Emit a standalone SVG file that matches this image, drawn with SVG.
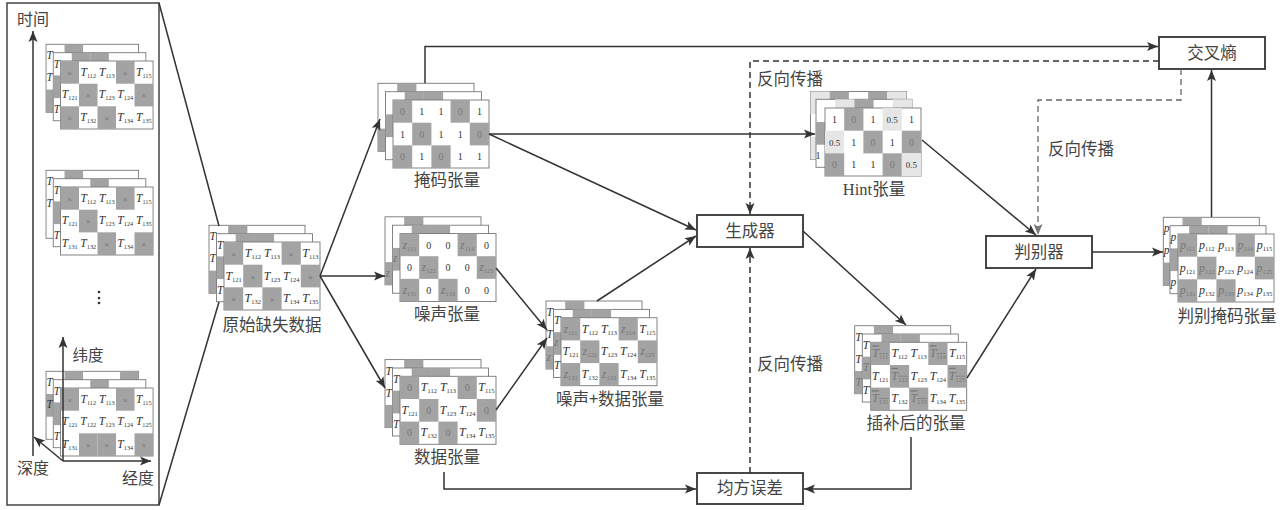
<svg xmlns="http://www.w3.org/2000/svg" width="1281" height="510" viewBox="0 0 1281 510">
<style>
text{font-family:"Liberation Serif","Noto Sans CJK SC",serif;fill:#333}
.l{font-family:"Noto Sans CJK SC","Noto Sans CJK JP",sans-serif;font-size:16.5px;text-anchor:middle;fill:#444}
.b{fill:#fff;stroke:#333;stroke-width:1.8}
.r{fill:#fff;stroke:#777;stroke-width:.9}
.t{font-size:12px;font-style:italic;text-anchor:middle}
.t tspan{font-size:6.5px;font-style:normal}
.n{font-size:10px;text-anchor:middle}
.d{fill:#777}
.o{text-decoration:overline}
.x{font-size:8px;text-anchor:middle;fill:#777;font-family:"Liberation Sans",sans-serif}
.e{font-size:11.5px;font-style:italic}
.c{fill:none;stroke:#333;stroke-width:1.5;marker-end:url(#a)}
.k{fill:none;stroke:#333;stroke-width:1.5;stroke-dasharray:6 4;marker-end:url(#a)}
.g{fill:none;stroke:#666;stroke-width:1.3;stroke-dasharray:6 4;marker-end:url(#h)}
.z{fill:none;stroke:#333;stroke-width:1.5}
</style>
<defs>
<marker id="a" markerUnits="userSpaceOnUse" markerWidth="12" markerHeight="10" refX="11" refY="5" orient="auto"><path d="M0 .5L11 5L0 9.5L2.5 5z" fill="#333"/></marker>
<marker id="h" markerUnits="userSpaceOnUse" markerWidth="12" markerHeight="10" refX="11" refY="5" orient="auto"><path d="M0 .5L11 5L0 9.5L2.5 5z" fill="#777"/></marker>
<rect id="c" width="19.2" height="22.7" fill="#a3a3a3"/>
<rect id="w" width="19.2" height="22.7" fill="#e6e6e6"/>
<rect id="f" width="96" height="68" class="r"/>
<g id="bA"><use href="#f"/><use href="#c" x="19.2" y="0"/><use href="#c" x="0" y="45.3"/></g>
<g id="mA"><use href="#f"/><use href="#c" x="19.2" y="0"/><use href="#c" x="38.4" y="0"/><use href="#c" x="0" y="22.7"/></g>
<g id="gA"><use href="#c" x="0" y="0"/><use href="#c" x="57.6" y="0"/><use href="#c" x="19.2" y="22.7"/><use href="#c" x="76.8" y="22.7"/><use href="#c" x="0" y="45.3"/><use href="#c" x="38.4" y="45.3"/></g>
</defs>

<g id="panel">
<rect x="7" y="3" width="152" height="502" fill="#fff" stroke="#444" stroke-width="1.5"/>
<g id="slice-top" transform="translate(60.5,61) scale(.964,1)">
<g transform="translate(-15,-16.7)"><use href="#bA"/><text class="e" x=".5" y="15">T</text><text class="e" x=".5" y="37">T</text></g>
<g transform="translate(-7.5,-8.3)"><use href="#mA"/><text class="e" x=".5" y="15">T</text><text class="e" x=".5" y="60">T</text></g>
<use href="#f"/><use href="#gA"/>
<text class="x" x="9.6" y="15">×</text><text class="t" x="28.8" y="15">T<tspan dy="2">112</tspan></text><text class="t" x="48" y="15">T<tspan dy="2">113</tspan></text><text class="x" x="67.2" y="15">×</text><text class="t" x="86.4" y="15">T<tspan dy="2">115</tspan></text>
<text class="t" x="9.6" y="37.5">T<tspan dy="2">121</tspan></text><text class="x" x="28.8" y="37.5">×</text><text class="t" x="48" y="37.5">T<tspan dy="2">123</tspan></text><text class="t" x="67.2" y="37.5">T<tspan dy="2">124</tspan></text><text class="x" x="86.4" y="37.5">×</text>
<text class="x" x="9.6" y="60">×</text><text class="t" x="28.8" y="60">T<tspan dy="2">132</tspan></text><text class="x" x="48" y="60">×</text><text class="t" x="67.2" y="60">T<tspan dy="2">134</tspan></text><text class="t" x="86.4" y="60">T<tspan dy="2">135</tspan></text>
</g>
<g id="slice-mid" transform="translate(60.5,187) scale(.964,1)">
<g transform="translate(-15,-16.7)"><use href="#f"/><use href="#c" x="19.2" y="0"/><text class="e" x=".5" y="15">T</text><text class="e" x=".5" y="37">T</text></g>
<g transform="translate(-7.5,-8.3)"><use href="#f"/><use href="#c" x="38.4" y="0"/><use href="#c" x="0" y="22.7"/><text class="e" x=".5" y="15">T</text><text class="e" x=".5" y="60">T</text></g>
<use href="#f"/><use href="#c" x="0" y="0"/><use href="#c" x="57.6" y="0"/><use href="#c" x="19.2" y="22.7"/><use href="#c" x="38.4" y="45.3"/><use href="#c" x="76.8" y="45.3"/>
<text class="x" x="9.6" y="15">×</text><text class="t" x="28.8" y="15">T<tspan dy="2">112</tspan></text><text class="t" x="48" y="15">T<tspan dy="2">113</tspan></text><text class="x" x="67.2" y="15">×</text><text class="t" x="86.4" y="15">T<tspan dy="2">115</tspan></text>
<text class="t" x="9.6" y="37.5">T<tspan dy="2">121</tspan></text><text class="x" x="28.8" y="37.5">×</text><text class="t" x="48" y="37.5">T<tspan dy="2">123</tspan></text><text class="t" x="67.2" y="37.5">T<tspan dy="2">124</tspan></text><text class="t" x="86.4" y="37.5">T<tspan dy="2">135</tspan></text>
<text class="t" x="9.6" y="60">T<tspan dy="2">131</tspan></text><text class="t" x="28.8" y="60">T<tspan dy="2">132</tspan></text><text class="x" x="48" y="60">×</text><text class="t" x="67.2" y="60">T<tspan dy="2">134</tspan></text><text class="x" x="86.4" y="60">×</text>
</g>
<g id="slice-bottom" transform="translate(60.5,388) scale(.964,1)">
<g transform="translate(-15,-16.7)"><use href="#f"/><use href="#c" x="19.2" y="0"/><use href="#c" x="76.8" y="0"/><use href="#c" x="0" y="22.7"/><text class="e" x=".5" y="15">T</text><text class="e" x=".5" y="37">T</text></g>
<g transform="translate(-7.5,-8.3)"><use href="#f"/><use href="#c" x="38.4" y="0"/><use href="#c" x="0" y="22.7"/><text class="e" x=".5" y="15">T</text><text class="e" x=".5" y="60">T</text></g>
<use href="#f"/><use href="#c" x="0" y="0"/><use href="#c" x="57.6" y="0"/><use href="#c" x="19.2" y="45.3"/><use href="#c" x="38.4" y="45.3"/><use href="#c" x="76.8" y="45.3"/>
<text class="x" x="9.6" y="15">×</text><text class="t" x="28.8" y="15">T<tspan dy="2">112</tspan></text><text class="t" x="48" y="15">T<tspan dy="2">113</tspan></text><text class="x" x="67.2" y="15">×</text><text class="t" x="86.4" y="15">T<tspan dy="2">115</tspan></text>
<text class="t" x="9.6" y="37.5">T<tspan dy="2">121</tspan></text><text class="t" x="28.8" y="37.5">T<tspan dy="2">122</tspan></text><text class="t" x="48" y="37.5">T<tspan dy="2">123</tspan></text><text class="t" x="67.2" y="37.5">T<tspan dy="2">124</tspan></text><text class="t" x="86.4" y="37.5">T<tspan dy="2">125</tspan></text>
<text class="t" x="9.6" y="60">T<tspan dy="2">131</tspan></text><text class="x" x="28.8" y="60">×</text><text class="x" x="48" y="60">×</text><text class="t" x="67.2" y="60">T<tspan dy="2">134</tspan></text><text class="x" x="86.4" y="60">×</text>
</g>
<circle cx="99" cy="292" r="1.3" fill="#333"/><circle cx="99" cy="298" r="1.3" fill="#333"/><circle cx="99" cy="303" r="1.3" fill="#333"/>
<path class="c" d="M33 456V31"/><path class="c" d="M63 461L34 437"/><path class="c" d="M63 461V337"/><path class="c" d="M63 461H151"/>
<text class="l" x="33" y="25" style="font-size:16px">时间</text>
<text class="l" x="88" y="361" style="font-size:15.5px">纬度</text>
<text class="l" x="33" y="474" style="font-size:16px">深度</text>
<text class="l" x="138" y="484" style="font-size:16px">经度</text>
</g>

<g id="orig">
<g transform="translate(224,242)">
<g transform="translate(-15,-16.7)"><use href="#bA"/><text class="e" x=".5" y="15">T</text><text class="e" x=".5" y="37">T</text></g>
<g transform="translate(-7.5,-8.3)"><use href="#mA"/><text class="e" x=".5" y="15">T</text><text class="e" x=".5" y="60">T</text></g>
<use href="#f"/><use href="#gA"/>
<text class="x" x="9.6" y="15">×</text><text class="t" x="28.8" y="15">T<tspan dy="2">112</tspan></text><text class="t" x="48" y="15">T<tspan dy="2">113</tspan></text><text class="x" x="67.2" y="15">×</text><text class="t" x="86.4" y="15">T<tspan dy="2">113</tspan></text>
<text class="t" x="9.6" y="37.5">T<tspan dy="2">121</tspan></text><text class="x" x="28.8" y="37.5">×</text><text class="t" x="48" y="37.5">T<tspan dy="2">123</tspan></text><text class="t" x="67.2" y="37.5">T<tspan dy="2">124</tspan></text><text class="x" x="86.4" y="37.5">×</text>
<text class="x" x="9.6" y="60">×</text><text class="t" x="28.8" y="60">T<tspan dy="2">132</tspan></text><text class="x" x="48" y="60">×</text><text class="t" x="67.2" y="60">T<tspan dy="2">134</tspan></text><text class="t" x="86.4" y="60">T<tspan dy="2">135</tspan></text>
</g>
<text class="l" x="272" y="331">原始缺失数据</text>
</g>

<g id="mask">
<g transform="translate(393,100)">
<g transform="translate(-15,-16.7)"><use href="#bA"/></g>
<g transform="translate(-7.5,-8.3)"><use href="#mA"/></g>
<use href="#f"/><use href="#gA"/>
<text class="n d" x="9.6" y="15">0</text><text class="n" x="28.8" y="15">1</text><text class="n" x="48" y="15">1</text><text class="n d" x="67.2" y="15">0</text><text class="n" x="86.4" y="15">1</text>
<text class="n" x="9.6" y="37.5">1</text><text class="n d" x="28.8" y="37.5">0</text><text class="n" x="48" y="37.5">1</text><text class="n" x="67.2" y="37.5">1</text><text class="n d" x="86.4" y="37.5">0</text>
<text class="n d" x="9.6" y="60">0</text><text class="n" x="28.8" y="60">1</text><text class="n d" x="48" y="60">0</text><text class="n" x="67.2" y="60">1</text><text class="n" x="86.4" y="60">1</text>
</g>
<text class="l" x="447" y="186">掩码张量</text>
</g>

<g id="noise">
<g transform="translate(400,233.5)">
<g transform="translate(-15,-16.7)"><use href="#bA"/><text class="e d" x=".5" y="60">z</text></g>
<g transform="translate(-7.5,-8.3)"><use href="#mA"/><text class="e d" x=".5" y="37">z</text></g>
<use href="#f"/><use href="#gA"/>
<text class="t d" x="9.6" y="15">z<tspan dy="2">111</tspan></text><text class="n" x="28.8" y="15">0</text><text class="n" x="48" y="15">0</text><text class="t d" x="67.2" y="15">z<tspan dy="2">114</tspan></text><text class="n" x="86.4" y="15">0</text>
<text class="n" x="9.6" y="37.5">0</text><text class="t d" x="28.8" y="37.5">z<tspan dy="2">122</tspan></text><text class="n" x="48" y="37.5">0</text><text class="n" x="67.2" y="37.5">0</text><text class="t d" x="86.4" y="37.5">z<tspan dy="2">125</tspan></text>
<text class="t d" x="9.6" y="60">z<tspan dy="2">131</tspan></text><text class="n" x="28.8" y="60">0</text><text class="t d" x="48" y="60">z<tspan dy="2">133</tspan></text><text class="n" x="67.2" y="60">0</text><text class="n" x="86.4" y="60">0</text>
</g>
<text class="l" x="447" y="320">噪声张量</text>
</g>

<g id="data">
<g transform="translate(400,376.3)">
<g transform="translate(-15,-16.7)"><use href="#bA"/><text class="e" x=".5" y="15">T</text><text class="e" x=".5" y="37">T</text></g>
<g transform="translate(-7.5,-8.3)"><use href="#mA"/><text class="e" x=".5" y="15">T</text><text class="e" x=".5" y="60">T</text></g>
<use href="#f"/><use href="#gA"/>
<text class="n d" x="9.6" y="15">0</text><text class="t" x="28.8" y="15">T<tspan dy="2">112</tspan></text><text class="t" x="48" y="15">T<tspan dy="2">113</tspan></text><text class="n d" x="67.2" y="15">0</text><text class="t" x="86.4" y="15">T<tspan dy="2">115</tspan></text>
<text class="t" x="9.6" y="37.5">T<tspan dy="2">121</tspan></text><text class="n d" x="28.8" y="37.5">0</text><text class="t" x="48" y="37.5">T<tspan dy="2">123</tspan></text><text class="t" x="67.2" y="37.5">T<tspan dy="2">124</tspan></text><text class="n d" x="86.4" y="37.5">0</text>
<text class="n d" x="9.6" y="60">0</text><text class="t" x="28.8" y="60">T<tspan dy="2">132</tspan></text><text class="n d" x="48" y="60">0</text><text class="t" x="67.2" y="60">T<tspan dy="2">134</tspan></text><text class="t" x="86.4" y="60">T<tspan dy="2">135</tspan></text>
</g>
<text class="l" x="447" y="463">数据张量</text>
</g>

<g id="noisy">
<g transform="translate(561,317.7)">
<g transform="translate(-15,-16.7)"><use href="#bA"/><text class="e" x=".5" y="15">T</text><text class="e" x=".5" y="37">T</text><text class="e d" x=".5" y="60">z</text></g>
<g transform="translate(-7.5,-8.3)"><use href="#mA"/><text class="e" x=".5" y="15">T</text><text class="e d" x=".5" y="37">z</text><text class="e" x=".5" y="60">T</text></g>
<use href="#f"/><use href="#gA"/>
<text class="t d" x="9.6" y="15">z<tspan dy="2">111</tspan></text><text class="t" x="28.8" y="15">T<tspan dy="2">112</tspan></text><text class="t" x="48" y="15">T<tspan dy="2">113</tspan></text><text class="t d" x="67.2" y="15">z<tspan dy="2">114</tspan></text><text class="t" x="86.4" y="15">T<tspan dy="2">115</tspan></text>
<text class="t" x="9.6" y="37.5">T<tspan dy="2">121</tspan></text><text class="t d" x="28.8" y="37.5">z<tspan dy="2">122</tspan></text><text class="t" x="48" y="37.5">T<tspan dy="2">123</tspan></text><text class="t" x="67.2" y="37.5">T<tspan dy="2">124</tspan></text><text class="t d" x="86.4" y="37.5">z<tspan dy="2">125</tspan></text>
<text class="t d" x="9.6" y="60">z<tspan dy="2">131</tspan></text><text class="t" x="28.8" y="60">T<tspan dy="2">132</tspan></text><text class="t d" x="48" y="60">z<tspan dy="2">133</tspan></text><text class="t" x="67.2" y="60">T<tspan dy="2">134</tspan></text><text class="t" x="86.4" y="60">T<tspan dy="2">135</tspan></text>
</g>
<text class="l" x="610" y="405">噪声+数据张量</text>
</g>

<g id="hint">
<g transform="translate(825,108)">
<g transform="translate(-14.5,-16.5)"><use href="#f"/><use href="#w" x="0" y="0"/><use href="#c" x="19.2" y="0"/><use href="#c" x="57.6" y="0"/><use href="#w" x="76.8" y="0"/><use href="#w" x="0" y="45.3"/></g>
<g transform="translate(-9,-8.7)"><use href="#f"/><use href="#w" x="19.2" y="0"/><use href="#c" x="38.4" y="0"/><use href="#w" x="76.8" y="0"/><use href="#c" x="0" y="22.7"/><text class="n" x="2" y="60">1</text></g>
<use href="#f"/>
<use href="#c" x="19.2" y="0"/><use href="#w" x="57.6" y="0"/><use href="#w" x="0" y="22.7"/><use href="#c" x="38.4" y="22.7"/><use href="#c" x="76.8" y="22.7"/><use href="#c" x="0" y="45.3"/><use href="#c" x="57.6" y="45.3"/><use href="#w" x="76.8" y="45.3"/>
<text class="n" x="9.6" y="15">1</text><text class="n d" x="28.8" y="15">0</text><text class="n" x="48" y="15">1</text><text class="n" x="67.2" y="15" style="font-size:9px">0.5</text><text class="n" x="86.4" y="15">1</text>
<text class="n" x="9.6" y="37.5" style="font-size:9px">0.5</text><text class="n" x="28.8" y="37.5">1</text><text class="n d" x="48" y="37.5">0</text><text class="n" x="67.2" y="37.5">1</text><text class="n d" x="86.4" y="37.5">0</text>
<text class="n d" x="9.6" y="60">0</text><text class="n" x="28.8" y="60">1</text><text class="n" x="48" y="60">1</text><text class="n d" x="67.2" y="60">0</text><text class="n" x="86.4" y="60" style="font-size:9px">0.5</text>
</g>
<text class="l" x="874" y="195"><tspan style="font-family:'Liberation Serif',serif">Hint</tspan>张量</text>
</g>

<g id="imputed">
<g transform="translate(870.7,342.3)">
<g transform="translate(-16,-16.6)"><use href="#bA"/><text class="e" x=".5" y="15">T</text><text class="e" x=".5" y="37">T</text><text class="e d" x=".5" y="60">T</text></g>
<g transform="translate(-8.4,-8.3)"><use href="#mA"/><text class="e" x=".5" y="15">T</text><text class="e d" x=".5" y="37">T</text><text class="e" x=".5" y="60">T</text></g>
<use href="#f"/><use href="#gA"/>
<text class="t d o" x="9.6" y="15">T<tspan dy="2">111</tspan></text><text class="t" x="28.8" y="15">T<tspan dy="2">112</tspan></text><text class="t" x="48" y="15">T<tspan dy="2">113</tspan></text><text class="t d o" x="67.2" y="15">T<tspan dy="2">114</tspan></text><text class="t" x="86.4" y="15">T<tspan dy="2">115</tspan></text>
<text class="t" x="9.6" y="37.5">T<tspan dy="2">121</tspan></text><text class="t d o" x="28.8" y="37.5">T<tspan dy="2">122</tspan></text><text class="t" x="48" y="37.5">T<tspan dy="2">123</tspan></text><text class="t" x="67.2" y="37.5">T<tspan dy="2">124</tspan></text><text class="t d o" x="86.4" y="37.5">T<tspan dy="2">125</tspan></text>
<text class="t d o" x="9.6" y="60">T<tspan dy="2">131</tspan></text><text class="t" x="28.8" y="60">T<tspan dy="2">132</tspan></text><text class="t d o" x="48" y="60">T<tspan dy="2">133</tspan></text><text class="t" x="67.2" y="60">T<tspan dy="2">134</tspan></text><text class="t" x="86.4" y="60">T<tspan dy="2">135</tspan></text>
</g>
<text class="l" x="916" y="429">插补后的张量</text>
</g>

<g id="discmask">
<g transform="translate(1178,234)">
<g transform="translate(-14.7,-16.7)"><use href="#bA"/><text class="e" x=".5" y="15">p</text><text class="e" x=".5" y="37">p</text></g>
<g transform="translate(-8,-8.3)"><use href="#mA"/><text class="e" x=".5" y="15">p</text><text class="e" x=".5" y="60">p</text></g>
<use href="#f"/><use href="#gA"/>
<text class="t d" x="9.6" y="15">p<tspan dy="2">111</tspan></text><text class="t" x="28.8" y="15">p<tspan dy="2">112</tspan></text><text class="t" x="48" y="15">p<tspan dy="2">113</tspan></text><text class="t d" x="67.2" y="15">p<tspan dy="2">114</tspan></text><text class="t" x="86.4" y="15">p<tspan dy="2">115</tspan></text>
<text class="t" x="9.6" y="37.5">p<tspan dy="2">121</tspan></text><text class="t d" x="28.8" y="37.5">p<tspan dy="2">122</tspan></text><text class="t" x="48" y="37.5">p<tspan dy="2">123</tspan></text><text class="t" x="67.2" y="37.5">p<tspan dy="2">124</tspan></text><text class="t d" x="86.4" y="37.5">p<tspan dy="2">125</tspan></text>
<text class="t d" x="9.6" y="60">p<tspan dy="2">131</tspan></text><text class="t" x="28.8" y="60">p<tspan dy="2">132</tspan></text><text class="t d" x="48" y="60">p<tspan dy="2">133</tspan></text><text class="t" x="67.2" y="60">p<tspan dy="2">134</tspan></text><text class="t" x="86.4" y="60">p<tspan dy="2">135</tspan></text>
</g>
<text class="l" x="1227" y="322">判别掩码张量</text>
</g>

<g id="generator"><rect class="b" x="697" y="215" width="106" height="32"/><text class="l" x="750" y="237">生成器</text></g>
<g id="discriminator"><rect class="b" x="986" y="236" width="106" height="32"/><text class="l" x="1039" y="258">判别器</text></g>
<g id="crossentropy"><rect class="b" x="1159" y="37" width="106" height="32"/><text class="l" x="1212" y="59">交叉熵</text></g>
<g id="mse"><rect class="b" x="697" y="473" width="106" height="31"/><text class="l" x="750" y="494">均方误差</text></g>

<g id="connectors">
<path class="z" d="M159 3L219 226"/><path class="z" d="M159 505L219 302"/>
<path class="c" d="M320 276L380 119"/>
<path class="c" d="M320 276H385"/>
<path class="c" d="M320 276L385 388"/>
<path class="c" d="M425 83V46.5H1158"/>
<path class="c" d="M489 134H815"/>
<path class="c" d="M489 134L696 230"/>
<path class="c" d="M496 268L547 330"/>
<path class="c" d="M496 410L547 338"/>
<path class="c" d="M597 301L696 236"/>
<path class="c" d="M803 231L906 325"/>
<path class="c" d="M967 378L1036 269"/>
<path class="c" d="M922 140L1036 235"/>
<path class="c" d="M1092 252H1163"/>
<path class="c" d="M1211.5 217V70"/>
<path class="c" d="M444 472V489H696"/>
<path class="c" d="M911 437V489H804"/>
<path class="k" d="M1159 61H750V214"/>
<path class="g" d="M1181 69V100H1038V235"/>
<path class="k" d="M750 473V248"/>
</g>
<g id="labels">
<text class="l" x="790" y="85">反向传播</text>
<text class="l" x="1081" y="155">反向传播</text>
<text class="l" x="790" y="370">反向传播</text>
</g>
</svg>
